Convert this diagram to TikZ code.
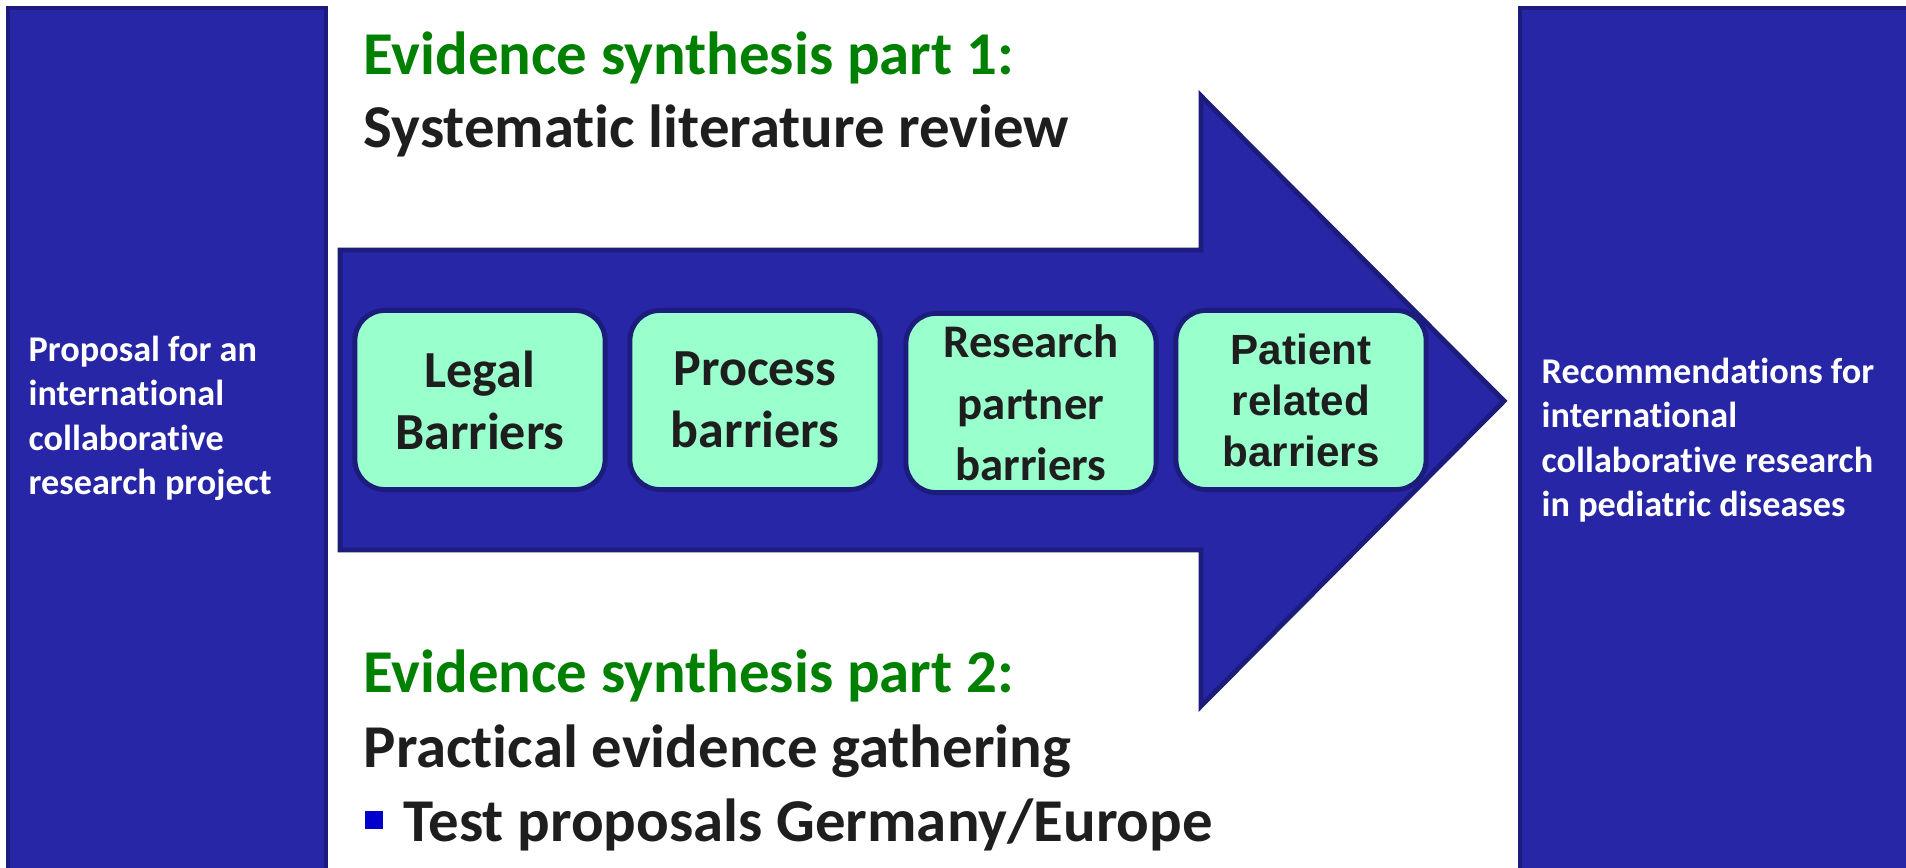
\documentclass[tikz,border=0pt]{standalone}
\usepackage{fontspec}
\setmainfont[Ligatures=NoCommon]{Carlito}
\newfontfamily\arialfont{Liberation Sans}

\definecolor{arrowblue}{HTML}{2626A6}
\definecolor{edgeblue}{HTML}{1C1C7C}
\definecolor{boxgreen}{HTML}{99FFCC}
\definecolor{titlegreen}{HTML}{008000}
\definecolor{textgray}{HTML}{1E1E1E}
\definecolor{bulletblue}{HTML}{0000CC}

\tikzset{
	sidebar/.style={fill=arrowblue, draw=edgeblue, line width=1.4pt},
	barrier/.style={draw=edgeblue, fill=boxgreen, line width=1.4pt, rounded corners=8.5pt,
		minimum width=2.5cm, minimum height=1.79cm, inner sep=0pt, align=center, text=textgray},
	sidetext/.style={text=white, align=left, inner sep=0pt, anchor=base west,
		font=\bfseries\fontsize{10.3}{12.7}\selectfont},
	headline/.style={inner sep=0pt, anchor=base west, font=\bfseries\fontsize{17.3}{20.8}\selectfont},
}

\begin{document}
\begin{tikzpicture}[x=0.01cm, y=-0.01cm]
	\useasboundingbox (0,0) rectangle (1906,868);
	\clip (0,0) rectangle (1906,868);
	
	% side bars and the big arrow
	\draw[sidebar] (8,8) rectangle (326,890);
	\draw[sidebar] (1520,8) rectangle (1930,890);
	\draw[sidebar] (340,250) -- (1201,250) -- (1201,96) -- (1504,401) -- (1201,706) -- (1201,550) -- (340,550) -- cycle;
	
	% barriers
	\node[barrier, font=\bfseries\fontsize{14.8}{17.6}\selectfont] (legal) at (480,400) {Legal\\Barriers};
	\node[barrier, font=\bfseries\fontsize{14.8}{17.6}\selectfont] (process) at (755,400) {Process\\barriers};
	\node[barrier, font=\bfseries\fontsize{13.3}{17.5}\selectfont] (partner) at (1031,403) {Research\\partner\\barriers};
	\node[barrier, font=\arialfont\bfseries\fontsize{12}{14.5}\selectfont] (patient) at (1301,400) {Patient\\related\\barriers};
	
	% side texts (anchored at the last baseline)
	\node[sidetext] (proposal) at (28,495) {Proposal for an\\international\\collaborative\\research project};
	\node[sidetext] (recommend) at (1541,517) {Recommendations for\\international\\collaborative research\\in pediatric diseases};
	
	% headlines
	\node[headline, text=titlegreen] (part1) at (363,75) {Evidence synthesis part 1:};
	\node[headline, text=textgray] (review) at (363,148) {Systematic literature review};
	\node[headline, text=titlegreen] (part2) at (363,693) {Evidence synthesis part 2:};
	\node[headline, text=textgray] (practical) at (363,768) {Practical evidence gathering};
	\fill[bulletblue] (365,811) rectangle (383,829);
	\node[headline, text=textgray] (testprop) at (403,842) {Test proposals Germany/Europe};
\end{tikzpicture}
\end{document}
